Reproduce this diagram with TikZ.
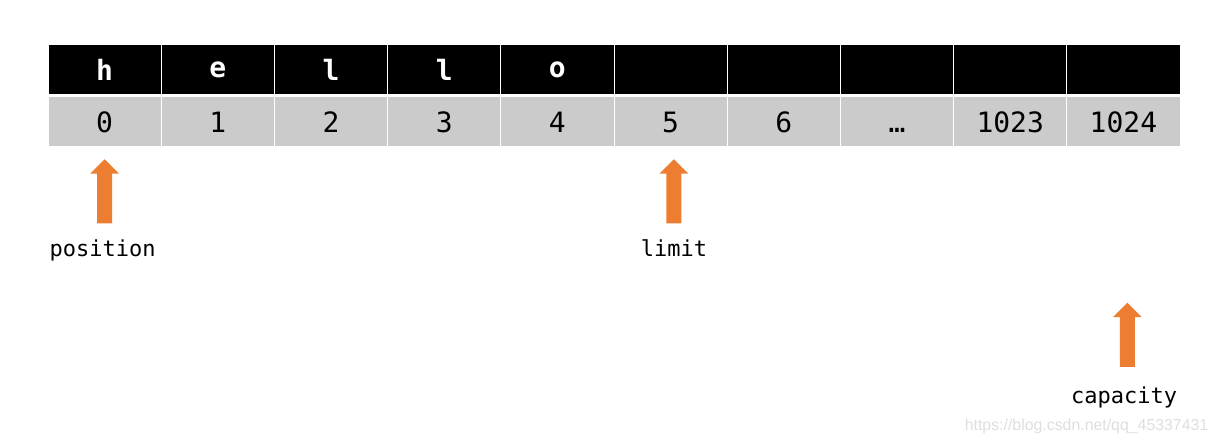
\documentclass[tikz,border=0pt]{standalone}
\usepackage{fontspec}
\setmainfont{DejaVu Sans Mono}
\newfontfamily\wmfont{Liberation Sans}
\usepackage{tikz}
\usetikzlibrary{positioning,shapes.arrows}
\definecolor{cellgray}{HTML}{CBCBCB}
\definecolor{ptrorange}{HTML}{ED7D31}

\tikzset{
  chr/.style={fill=black,draw=white,line width=0.75pt,minimum width=84.9pt,minimum height=37.5pt,inner sep=0pt,text=white,font=\fontsize{21}{22}\selectfont\bfseries},
  idx/.style={fill=cellgray,draw=white,line width=0.75pt,minimum width=84.9pt,minimum height=37.5pt,inner sep=0pt,text height=15.4pt,text depth=0pt,font=\fontsize{21}{22}\selectfont},
  ptr/.style={single arrow,shape border rotate=90,fill=ptrorange,draw=none,minimum height=48pt,minimum width=21pt,single arrow head extend=5.1pt,single arrow head indent=0pt,inner sep=5.4pt},
  lbl/.style={font=\fontsize{16.5}{18}\selectfont,text height=12pt,text depth=3pt,inner sep=0pt}
}

\begin{document}
\begin{tikzpicture}[node distance=84.9pt,on grid]
           \useasboundingbox (0,0) rectangle (912pt,-333.75pt);
           \node[chr] (c0) at (78.45pt,-52.5pt) {h};
           \node[chr] (c1) [right=of c0] {e};
           \node[chr] (c2) [right=of c1] {l};
           \node[chr] (c3) [right=of c2] {l};
           \node[chr] (c4) [right=of c3] {o};
           \node[chr] (c5) [right=of c4] {};
           \node[chr] (c6) [right=of c5] {};
           \node[chr] (c7) [right=of c6] {};
           \node[chr] (c8) [right=of c7] {};
           \node[chr] (c9) [right=of c8] {};
           \node[idx] (i0) [below=39pt of c0] {0};
           \node[idx] (i1) [right=of i0] {1};
           \node[idx] (i2) [right=of i1] {2};
           \node[idx] (i3) [right=of i2] {3};
           \node[idx] (i4) [right=of i3] {4};
           \node[idx] (i5) [right=of i4] {5};
           \node[idx] (i6) [right=of i5] {6};
           \node[idx] (i7) [right=of i6] {…};
           \node[idx] (i8) [right=of i7] {1023};
           \node[idx] (i9) [right=of i8] {1024};
           \node[ptr] (p_pos) [below=54.75pt of i0] {};
           \node[ptr] (p_lim) [below=54.75pt of i5, xshift=2.5pt] {};
           \node[ptr] (p_cap) [below=162.4pt of i9, xshift=3pt] {};
           \node[lbl] (l_pos) [below=42pt of p_pos, xshift=-1.5pt] {position};
           \node[lbl] (l_lim) [below=41.5pt of p_lim] {limit};
           \node[lbl] (l_cap) [below=44pt of p_cap, xshift=-2.5pt] {capacity};
           \node[font=\wmfont\fontsize{11.9}{13}\selectfont,text=black!13] (wm) at (814.9pt,-320pt) {https://blog.csdn.net/qq\_45337431};
        \end{tikzpicture}
\end{document}
